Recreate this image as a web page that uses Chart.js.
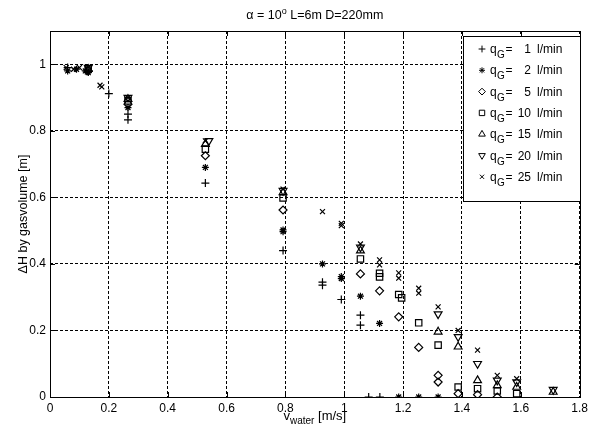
<!DOCTYPE html>
<html>
<head>
<meta charset="utf-8">
<script src="https://cdn.jsdelivr.net/npm/chart.js@4"></script>
<style>
  html, body { margin:0; padding:0; background:#fff; }
  #wrap { width:592px; height:433px; }
</style>
</head>
<body>
<div id="wrap"><canvas id="c" width="592" height="433"></canvas></div>
<script>
// axis ticks
const xTicks = [0, 0.2, 0.4, 0.6, 0.8, 1, 1.2, 1.4, 1.6, 1.8];
const yTicks = [0, 0.2, 0.4, 0.6, 0.8, 1];

// legend labels (gas flow in l/min)
const flows = [1, 2, 5, 10, 15, 20, 25];

// measured points [v_water, dH] per gas flow
const q1 = [[0.06,0.99],[0.13,0.98],[0.2,0.912],[0.265,0.85],[0.265,0.833],[0.528,0.643],
  [0.792,0.44],[0.926,0.336],[0.926,0.345],[0.99,0.293],[1.055,0.246],[1.055,0.216],
  [1.083,0],[1.121,0]];
const q2 = [[0.06,0.98],[0.09,0.985],[0.12,0.98],[0.13,0.975],[0.265,0.87],[0.528,0.69],
  [0.792,0.497],[0.792,0.502],[0.926,0.40],[0.99,0.356],[0.99,0.362],[1.055,0.303],
  [1.12,0.221],[1.185,0],[1.253,0],[1.319,0]];
const q5 = [[0.13,0.98],[0.265,0.88],[0.528,0.725],[0.792,0.562],[1.055,0.37],[1.12,0.319],
  [1.185,0.241],[1.253,0.149],[1.319,0.065],[1.319,0.045],[1.387,0.01],[1.453,0.007],[1.52,0]];
const q10 = [[0.13,0.985],[0.265,0.89],[0.528,0.745],[0.792,0.598],[1.055,0.415],[1.12,0.361],
  [1.12,0.372],[1.185,0.308],[1.195,0.298],[1.253,0.223],[1.319,0.156],[1.387,0.03],
  [1.453,0.025],[1.52,0.018],[1.586,0.01]];
const q15 = [[0.13,0.985],[0.265,0.895],[0.528,0.76],[0.792,0.615],[1.055,0.44],[1.319,0.196],
  [1.387,0.151],[1.453,0.05],[1.52,0.035],[1.586,0.03],[1.71,0.015]];
const q20 = [[0.13,0.99],[0.265,0.9],[0.54,0.77],[0.792,0.62],[1.055,0.45],[1.319,0.249],
  [1.387,0.181],[1.453,0.1],[1.52,0.05],[1.586,0.045],[1.71,0.022]];
const q25 = [[0.055,0.99],[0.08,0.985],[0.1,0.99],[0.17,0.937],[0.176,0.932],[0.265,0.9],
  [0.528,0.77],[0.792,0.625],[0.926,0.557],[0.99,0.522],[0.99,0.515],[1.055,0.46],
  [1.12,0.412],[1.12,0.397],[1.185,0.373],[1.185,0.357],[1.253,0.327],[1.253,0.312],
  [1.319,0.271],[1.387,0.2],[1.453,0.141],[1.52,0.065],[1.586,0.055]];

const series = [q1, q2, q5, q10, q15, q20, q25];
const markers = [
  {pointStyle:'cross',    rotation:0,   radius:4},
  {pointStyle:'star',     rotation:0,   radius:3.5},
  {pointStyle:'rectRot',  rotation:0,   radius:4},
  {pointStyle:'rect',     rotation:0,   radius:4.5},
  {pointStyle:'triangle', rotation:0,   radius:4.5},
  {pointStyle:'triangle', rotation:180, radius:4.5},
  {pointStyle:'crossRot', rotation:0,   radius:3.5}
];

const FONT = 'Liberation Sans, Arial, sans-serif';

// draws text pieces side by side, some raised or lowered
function richText(ctx, parts, cx, y, align) {
  let w = 0;
  parts.forEach(p => { ctx.font = p.size + 'px ' + FONT; p.w = ctx.measureText(p.t).width; w += p.w; });
  let x = align === 'center' ? cx - w/2 : cx;
  parts.forEach(p => {
    ctx.font = p.size + 'px ' + FONT;
    ctx.textAlign = 'left';
    ctx.fillText(p.t, x, y + (p.dy || 0));
    x += p.w;
  });
}

const matlabLook = {
  id: 'matlabLook',
  afterDraw(chart) {
    const ctx = chart.ctx, a = chart.chartArea;
    const xs = chart.scales.x, ys = chart.scales.y;
    ctx.save();
    ctx.strokeStyle = '#000'; ctx.fillStyle = '#000'; ctx.lineWidth = 1;
    ctx.setLineDash([]);
    // inward ticks on all sides
    ctx.beginPath();
    xTicks.forEach(v => {
      const px = Math.round(xs.getPixelForValue(v)) + 0.5;
      ctx.moveTo(px, a.bottom); ctx.lineTo(px, a.bottom - 5);
      ctx.moveTo(px, a.top); ctx.lineTo(px, a.top + 5);
    });
    yTicks.forEach(v => {
      const py = Math.round(ys.getPixelForValue(v)) + 0.5;
      ctx.moveTo(a.left, py); ctx.lineTo(a.left + 5, py);
      ctx.moveTo(a.right, py); ctx.lineTo(a.right - 5, py);
    });
    ctx.stroke();
    // frame
    ctx.strokeRect(Math.round(a.left) + 0.5, Math.round(a.top) + 0.5,
      Math.round(a.right - a.left), Math.round(a.bottom - a.top));

    // legend box
    const lx = 463.5, ly = 36.5, lw = 117, lh = 165;
    ctx.fillStyle = '#fff';
    ctx.fillRect(lx, ly, lw, lh);
    ctx.strokeRect(lx, ly, lw, lh);
    ctx.fillStyle = '#000';
    ctx.textBaseline = 'alphabetic';
    flows.forEach((f, i) => {
      const ry = 49 + i * 21.3;
      const m = markers[i];
      ctx.save();
      ctx.fillStyle = 'rgba(0,0,0,0)';
      ctx.strokeStyle = '#000'; ctx.lineWidth = 1;
      Chart.helpers.drawPoint(ctx, {pointStyle:m.pointStyle, rotation:m.rotation, radius:m.radius * 0.85, borderWidth:1}, 482, ry);
      ctx.restore();
      ctx.font = '12px ' + FONT;
      ctx.textAlign = 'left';
      ctx.fillText('q', 490, ry + 4);
      ctx.font = '10px ' + FONT;
      ctx.fillText('G', 497, ry + 9);
      ctx.font = '12px ' + FONT;
      ctx.fillText('=', 505.5, ry + 4);
      ctx.textAlign = 'right';
      ctx.fillText(String(f), 531, ry + 4);
      ctx.textAlign = 'left';
      ctx.fillText('l/min', 537, ry + 4);
    });

    // title
    const cx = (a.left + a.right) / 2;
    richText(ctx, [
      {t:'\u03B1 = 10', size:12.5},
      {t:'o', size:9, dy:-5},
      {t:' L=6m D=220mm', size:12.5}
    ], cx, 19, 'center');

    // x label
    richText(ctx, [
      {t:'v', size:13},
      {t:'water', size:10, dy:4},
      {t:' [m/s]', size:13}
    ], cx, 420, 'center');

    // y label
    ctx.save();
    ctx.translate(27, (a.top + a.bottom) / 2);
    ctx.rotate(-Math.PI / 2);
    ctx.font = '12.5px ' + FONT;
    ctx.textAlign = 'center';
    ctx.fillText('\u0394H by gasvolume [m]', 0, 0);
    ctx.restore();
    ctx.restore();
  }
};

const datasets = series.map((pts, i) => ({
  label: 'qG = ' + flows[i] + ' l/min',
  data: pts.map(p => ({x: p[0], y: p[1]})),
  pointStyle: markers[i].pointStyle,
  rotation: markers[i].rotation,
  pointRadius: markers[i].radius,
  pointHoverRadius: markers[i].radius,
  borderColor: '#000',
  backgroundColor: 'rgba(0,0,0,0)',
  borderWidth: 1.2,
  showLine: false
}));

const gridOpts = {color:'#000', lineWidth:1, drawTicks:false};

new Chart(document.getElementById('c'), {
  type: 'scatter',
  data: {datasets},
  options: {
    responsive: false,
    animation: false,
    layout: {padding: {top: 31, right: 11, left: 0, bottom: 0}},
    plugins: {legend: {display:false}, title: {display:false}, tooltip: {enabled:false}},
    scales: {
      x: {
        type: 'linear', min: 0, max: 1.8,
        afterBuildTicks: s => { s.ticks = xTicks.map(v => ({value:v})); },
        afterFit: s => { s.height = 36; },
        grid: gridOpts,
        border: {display:false, dash:[3,2]},
        ticks: {color:'#000', font:{family:FONT, size:12}, padding:4, maxRotation:0,
          callback: v => String(v)}
      },
      y: {
        type: 'linear', min: 0, max: 1.1,
        afterBuildTicks: s => { s.ticks = yTicks.map(v => ({value:v})); },
        afterFit: s => { s.width = 50; },
        grid: gridOpts,
        border: {display:false, dash:[3,2]},
        ticks: {color:'#000', font:{family:FONT, size:12}, padding:4,
          callback: v => String(v)}
      }
    }
  },
  plugins: [matlabLook]
});
</script>
</body>
</html>
